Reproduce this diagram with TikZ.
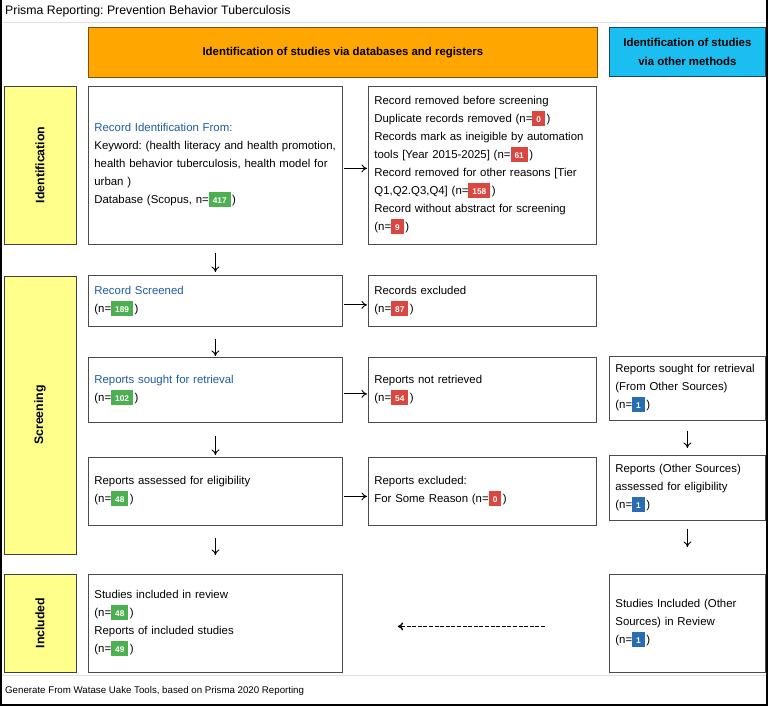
\documentclass[tikz,border=0pt]{standalone}
\usepackage{fontspec}
\setmainfont{Liberation Sans}
\usetikzlibrary{arrows.meta}
\frenchspacing
\definecolor{ttlblue}{RGB}{30,92,160}
\definecolor{bgreen}{RGB}{76,176,80}
\definecolor{bred}{RGB}{218,70,64}
\definecolor{bblue}{RGB}{40,108,178}
\definecolor{hdorange}{RGB}{255,166,0}
\definecolor{hdorangeline}{RGB}{120,80,10}
\definecolor{hdblue}{RGB}{26,190,240}
\definecolor{hdblueline}{RGB}{20,70,110}
\definecolor{sideyel}{RGB}{255,255,140}
\newcommand\bdg[2]{{\setlength{\fboxsep}{0pt}\colorbox{#1}{\rule[-3.5pt]{0pt}{15pt}\hspace{4pt}\textcolor{white}{\fontsize{8.3}{9}\selectfont\bfseries #2}\hspace{4pt}}}\hspace{1.5pt}}
\tikzset{
  box/.style={draw=black!70, line width=0.8pt, fill=white, align=left, anchor=north west,
    inner xsep=6pt, inner ysep=0pt, font=\fontsize{11.4}{18}\selectfont},
  sidebox/.style={draw=black!75, line width=0.8pt, fill=sideyel, rotate=90,
    inner sep=0pt, font=\bfseries\fontsize{12.3}{14}\selectfont},
  arr/.style={-{To[length=5.5pt,width=8pt]}, line width=0.9pt, black},
  dasharr/.style={-{To[length=5.5pt,width=8pt]}, line width=1.4pt, black, dash pattern=on 4pt off 1.6pt}
}
\begin{document}
\begin{tikzpicture}[x=1pt,y=-1pt]
\useasboundingbox (0,0) rectangle (769,707);
% frame
\draw[black!12, line width=0.8pt] (1,22) -- (767,22);
\draw[black!12, line width=0.8pt] (1,675) -- (767,675);
\draw[black, line width=1.2pt] (1,0) -- (1,705) -- (767,705);
\draw[black, line width=2.2pt] (767,0) -- (767,706);
% title and footer
\node[anchor=west, inner sep=0pt, font=\fontsize{12.3}{14}\selectfont] (title) at (5,11) {Prisma Reporting: Prevention Behavior Tuberculosis};
\node[anchor=west, inner sep=0pt, font=\fontsize{9.7}{12}\selectfont] (foot) at (5,691) {Generate From Watase Uake Tools, based on Prisma 2020 Reporting};
% headers
\node[draw=hdorangeline, line width=0.8pt, fill=hdorange, anchor=north west, minimum width=509, minimum height=50, font=\bfseries\fontsize{11.4}{14}\selectfont] (hdA) at (88,27) {Identification of studies via databases and registers};
\node[draw=hdblueline, line width=0.8pt, fill=hdblue, anchor=north west, minimum width=156, minimum height=49, align=center, font=\bfseries\fontsize{11.4}{19}\selectfont] (hdB) at (609,27) {Identification of studies\\via other methods};
% side labels
\node[sidebox, minimum width=158, minimum height=72] (sideid) at (40,165) {Identification};
\node[sidebox, minimum width=278, minimum height=72] (sidescr) at (40,415) {Screening};
\node[sidebox, minimum width=98, minimum height=72] (sideinc) at (40,623) {Included};
% left column
\node[box, minimum width=254, minimum height=158, text width=242] (idbox) at (88,86) {\textcolor{ttlblue}{Record Identification From:}\\\mbox{Keyword: (health literacy and health promotion,}\\\mbox{health behavior tuberculosis, health model for}\\urban )\\Database (Scopus, n=\bdg{bgreen}{417})};
\node[box, minimum width=228, minimum height=158, text width=216] (rmbox) at (368,86) {Record removed before screening\\Duplicate records removed (n=\bdg{bred}{0})\\\mbox{Records mark as ineigible by automation}\\tools [Year 2015-2025] (n=\bdg{bred}{61})\\\mbox{Record removed for other reasons [Tier}\\Q1,Q2.Q3,Q4] (n=\bdg{bred}{158})\\Record without abstract for screening\\(n=\bdg{bred}{9})};
\node[box, minimum width=254, minimum height=51, text width=242] (scrbox) at (88,275) {\textcolor{ttlblue}{Record Screened}\\(n=\bdg{bgreen}{189})};
\node[box, minimum width=228, minimum height=51, text width=216] (exbox) at (368,275) {Records excluded\\(n=\bdg{bred}{87})};
\node[box, minimum width=254, minimum height=65, text width=242] (sgbox) at (88,357) {\textcolor{ttlblue}{Reports sought for retrieval}\\(n=\bdg{bgreen}{102})};
\node[box, minimum width=228, minimum height=65, text width=216] (nrbox) at (368,357) {Reports not retrieved\\(n=\bdg{bred}{54})};
\node[box, minimum width=254, minimum height=68, text width=242] (asbox) at (88,457) {Reports assessed for eligibility\\(n=\bdg{bgreen}{48})};
\node[box, minimum width=228, minimum height=68, text width=216] (rebox) at (368,457) {Reports excluded:\\For Some Reason (n=\bdg{bred}{0})};
\node[box, minimum width=254, minimum height=98, text width=242] (inbox) at (88,574) {Studies included in review\\(n=\bdg{bgreen}{48})\\Reports of included studies\\(n=\bdg{bgreen}{49})};
% right column
\node[box, minimum width=156, minimum height=64, text width=144] (osbox) at (609,356) {\mbox{Reports sought for retrieval}\\(From Other Sources)\\(n=\bdg{bblue}{1})};
\node[box, minimum width=156, minimum height=65, text width=144] (oabox) at (609,455) {Reports (Other Sources)\\assessed for eligibility\\(n=\bdg{bblue}{1})};
\node[box, minimum width=156, minimum height=98, text width=144] (oinbox) at (609,574) {Studies Included (Other\\Sources) in Review\\(n=\bdg{bblue}{1})};
% horizontal arrows
\draw[arr, shorten <=1pt, shorten >=1pt] ([yshift=-3pt]idbox.east) -- ([yshift=-3pt]rmbox.west);
\draw[arr, shorten <=1pt, shorten >=1pt] ([yshift=-4pt]scrbox.east) -- ([yshift=-4pt]exbox.west);
\draw[arr, shorten <=1pt, shorten >=1pt] ([yshift=-4pt]sgbox.east) -- ([yshift=-4pt]nrbox.west);
\draw[arr, shorten <=1pt, shorten >=1pt] ([yshift=-5pt]asbox.east) -- ([yshift=-5pt]rebox.west);
% vertical arrows
\draw[arr] ([yshift=-8pt]idbox.south) -- ([yshift=3pt]scrbox.north);
\draw[arr] ([yshift=-12pt]scrbox.south) -- ([yshift=1pt]sgbox.north);
\draw[arr] ([yshift=-13pt]sgbox.south) -- ([yshift=2pt]asbox.north);
\draw[arr] ([yshift=-12pt]asbox.south) -- ([yshift=19pt]inbox.north);
\draw[arr] ([yshift=-10pt]osbox.south) -- ([yshift=7pt]oabox.north);
\draw[arr] ([yshift=-8pt]oabox.south) -- ([yshift=27pt]oinbox.north);
% dashed arrow
\draw[dasharr] ([xshift=-64pt,yshift=-3pt]oinbox.west) -- ([xshift=55pt,yshift=-3pt]inbox.east);
\end{tikzpicture}
\end{document}
